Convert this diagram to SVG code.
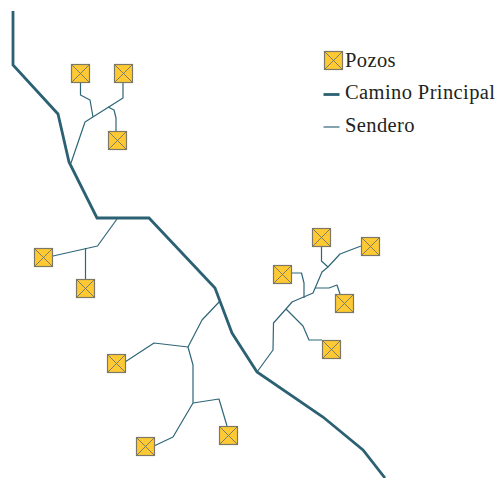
<svg xmlns="http://www.w3.org/2000/svg" width="500" height="478" viewBox="0 0 500 478">
<style>
.road{fill:none;stroke:#2b6173;stroke-width:2.8;stroke-linejoin:miter}
.trail{fill:none;stroke:#2f6678;stroke-width:1.2;stroke-linejoin:round}
.box{fill:#fec932;stroke:#7d7866;stroke-width:1.2}
.x{stroke:#6e7566;stroke-width:.9;fill:none}
text{font-family:"Liberation Serif","Times New Roman",serif;font-size:20.5px;letter-spacing:.4px;fill:#231f20}
</style>
<defs>
<g id="well"><rect class="box" x="-9" y="-9" width="18" height="18"/><path class="x" d="M-9-9 9 9M9-9-9 9"/></g>
</defs>
<g id="connectors">
<path class="road" d="M13 11V65L58 114 69 162 97 218H149L215 288 232 333 257 372 323 417 363 450 385 478"/>
<path class="trail" d="M71 163 85 122 123 98V83"/>
<path class="trail" d="M80.500 83V95L90 100 93 117"/>
<path class="trail" d="M108 107 114 110 116 118V131"/>
<path class="trail" d="M117 219 97.500 246 53 256"/>
<path class="trail" d="M85.500 248V279"/>
<path class="trail" d="M257 372 273 350 273.500 323 286 309 292 302 313 293 322 272 328 267 340 254 361 246"/>
<path class="trail" d="M321.500 246V261L328 267"/>
<path class="trail" d="M292 273H301.500L304 283V298"/>
<path class="trail" d="M315 288H329L337 285 340 294"/>
<path class="trail" d="M286 309 303 326 309 340H322"/>
<path class="trail" d="M220 301 202 320 188 347 193 365V403L173 437 154 446"/>
<path class="trail" d="M188 347 154 343 125 362"/>
<path class="trail" d="M193 403 219 399 227 426"/>
</g>
<g id="pozo-1"><use href="#well" x="80.500" y="73.500"/></g>
<g id="pozo-2"><use href="#well" x="123.500" y="73.500"/></g>
<g id="pozo-3"><use href="#well" x="117.500" y="140.500"/></g>
<g id="pozo-4"><use href="#well" x="43.500" y="257.500"/></g>
<g id="pozo-5"><use href="#well" x="85.500" y="288.500"/></g>
<g id="pozo-6"><use href="#well" x="321.500" y="237.500"/></g>
<g id="pozo-7"><use href="#well" x="370.500" y="246.500"/></g>
<g id="pozo-8"><use href="#well" x="282.500" y="274.500"/></g>
<g id="pozo-9"><use href="#well" x="344.500" y="303.500"/></g>
<g id="pozo-10"><use href="#well" x="331.500" y="349.500"/></g>
<g id="pozo-11"><use href="#well" x="116.500" y="363.500"/></g>
<g id="pozo-12"><use href="#well" x="145.500" y="446.500"/></g>
<g id="pozo-13"><use href="#well" x="228.500" y="435.500"/></g>
<g id="legend">
<use href="#well" x="333.500" y="60.500"/>
<path class="road" d="M323.500 94.500H339.500"/>
<path class="trail" d="M323.500 127H339.500"/>
<text x="345" y="66.500">Pozos</text>
<text x="345" y="99">Camino Principal</text>
<text x="345" y="132">Sendero</text>
</g>
</svg>
